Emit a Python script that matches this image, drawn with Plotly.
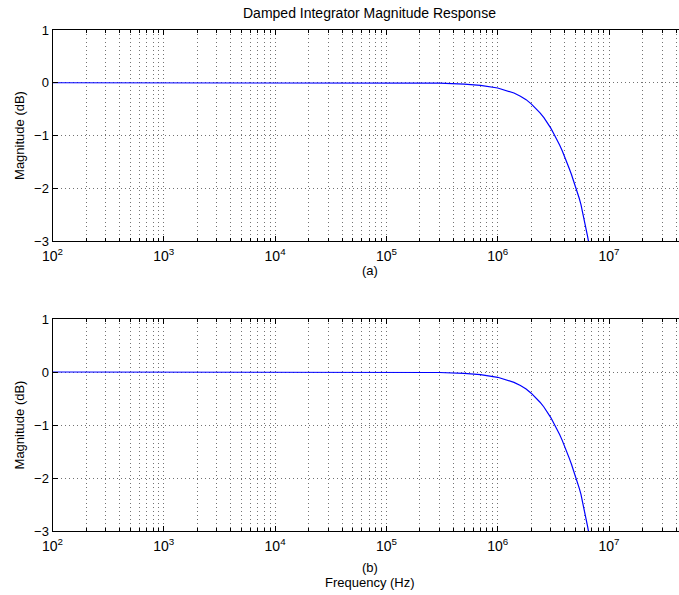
import plotly.graph_objects as go

# Data
freq_hz = [1e2, 1e3, 1e4, 5e4, 1e5, 2e5, 3e5, 5e5, 7e5, 1e6, 1.2e6, 1.4e6, 1.6e6,
           1.8e6, 2.0e6, 2.2e6, 2.4e6, 2.6e6, 2.8e6, 3.0e6, 3.2e6, 3.4e6, 3.6e6,
           3.8e6, 4.0e6, 4.2e6, 4.4e6, 4.6e6, 4.8e6, 5.0e6, 5.2e6, 5.4e6, 5.6e6,
           5.8e6, 6.0e6, 6.2e6, 6.4e6, 6.6e6, 6.8e6]
mag_a_db = [0, 0, 0, -0.0003, -0.001, -0.004, -0.009, -0.026, -0.05, -0.10, -0.145,
            -0.195, -0.255, -0.32, -0.40, -0.48, -0.57, -0.66, -0.76, -0.86, -0.97,
            -1.07, -1.18, -1.29, -1.40, -1.52, -1.63, -1.74, -1.85, -1.96, -2.07,
            -2.19, -2.31, -2.45, -2.59, -2.74, -2.90, -3.05, -3.20]
mag_b_db = [0, 0, 0, -0.0003, -0.001, -0.004, -0.009, -0.026, -0.05, -0.10, -0.145,
            -0.195, -0.255, -0.32, -0.40, -0.48, -0.57, -0.66, -0.76, -0.86, -0.97,
            -1.07, -1.18, -1.29, -1.40, -1.52, -1.63, -1.74, -1.85, -1.96, -2.07,
            -2.19, -2.31, -2.45, -2.59, -2.74, -2.90, -3.05, -3.20]
decades = [1e2, 1e3, 1e4, 1e5, 1e6, 1e7]
decade_labels = ["10<sup>2</sup>", "10<sup>3</sup>", "10<sup>4</sup>",
                 "10<sup>5</sup>", "10<sup>6</sup>", "10<sup>7</sup>"]
minor_vals = [m * d for d in [1e2, 1e3, 1e4, 1e5, 1e6, 1e7] for m in range(2, 10)]
y_ticks = [-3, -2, -1, 0, 1]

W, H = 679, 595
FONT = "Liberation Sans, Arial, sans-serif"

fig = go.Figure()
fig.add_trace(go.Scatter(x=freq_hz, y=mag_a_db, mode="lines", xaxis="x", yaxis="y",
                         line=dict(color="#0000ff", width=1.2),
                         showlegend=False))
fig.add_trace(go.Scatter(x=freq_hz, y=mag_b_db, mode="lines", xaxis="x2", yaxis="y2",
                         line=dict(color="#0000ff", width=1.2),
                         showlegend=False))

x0 = 52.5 / W
xr = [2, 2 + (W - 52.5) / 111.3]
grid_kw = dict(gridcolor="rgba(0,0,0,0.55)", gridwidth=1, griddash="1px,3px")

def xax(anchor):
    return dict(type="log", range=xr, domain=[x0, 1.0], anchor=anchor,
                automargin=False,
                tickmode="array", tickvals=decades, ticktext=decade_labels,
                ticks="inside", ticklen=5, tickcolor="black", tickwidth=1,
                showline=True, linecolor="black", linewidth=1, mirror="ticks",
                showgrid=True, zeroline=False,
                tickfont=dict(family=FONT, size=14, color="black"),
                ticklabelstandoff=2,
                minor=dict(tickmode="array", tickvals=minor_vals, ticks="inside",
                           ticklen=3, tickcolor="black", showgrid=True, **grid_kw),
                **grid_kw)

def yax(anchor, dom):
    return dict(range=[-3, 1], domain=dom, anchor=anchor,
                automargin=False,
                tickmode="array", tickvals=y_ticks,
                ticks="inside", ticklen=5, tickcolor="black",
                showline=True, linecolor="black", linewidth=1, mirror=False,
                showgrid=True, zeroline=False,
                tickfont=dict(family=FONT, size=13, color="black"),
                title=dict(text="Magnitude (dB)", standoff=6,
                           font=dict(family=FONT, size=13, color="black")),
                **grid_kw)

fig.update_layout(
    width=W, height=H,
    margin=dict(l=0, r=0, t=0, b=0),
    paper_bgcolor="white", plot_bgcolor="white",
    xaxis=xax("y"), yaxis=yax("x", [1 - 241 / H, 1 - 30 / H]),
    xaxis2=xax("y2"), yaxis2=yax("x2", [1 - 531 / H, 1 - 319 / H]),
    font=dict(family=FONT, size=13, color="black"),
)

def ann(text, xpx, ypx, size=13):
    fig.add_annotation(text=text, x=xpx / W, y=1 - ypx / H, xref="paper", yref="paper",
                       showarrow=False, xanchor="center", yanchor="middle",
                       font=dict(family=FONT, size=size, color="black"))

ann("Damped Integrator Magnitude Response", 370, 13, 14)
ann("(a)", 370, 271)
ann("(b)", 370, 567)
ann("Frequency (Hz)", 370, 582)

fig.write_html("out.html")
